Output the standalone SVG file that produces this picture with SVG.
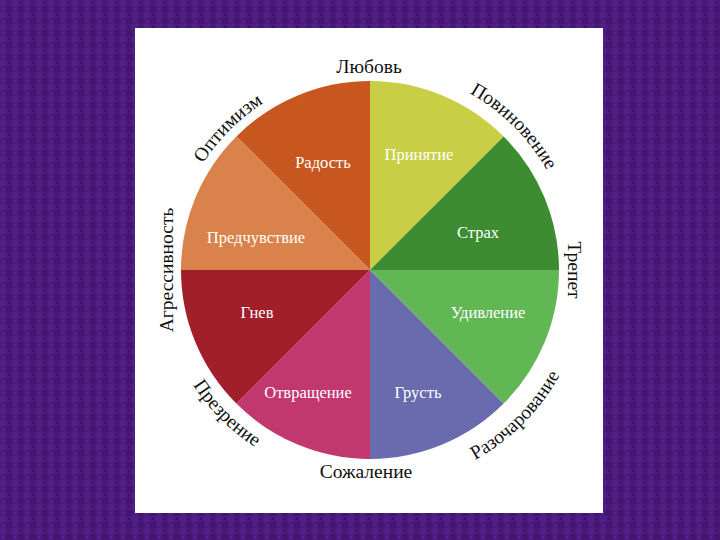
<svg xmlns="http://www.w3.org/2000/svg" xmlns:xlink="http://www.w3.org/1999/xlink" width="720" height="540" viewBox="0 0 720 540">
  <defs>
    <pattern id="tex" x="0" y="0" width="12" height="12" patternUnits="userSpaceOnUse">
      <rect width="12" height="12" fill="#4a1a7c"/>
      <rect x="0" y="0" width="6" height="6" fill="#531d86"/>
      <rect x="6" y="6" width="6" height="6" fill="#431570"/>
      <rect x="2" y="8" width="2" height="2" fill="#5c2493"/>
      <rect x="8" y="2" width="2" height="2" fill="#3d1266"/>
    </pattern>
    <path id="arcOpt" d="M172,270 A198,198 0 0 1 370,72"/>
    <path id="arcPov" d="M370,67 A203,203 0 0 1 573,270"/>
    <path id="arcRaz" d="M370,487 A217,217 0 0 0 587,270"/>
    <path id="arcPrez" d="M159,270 A211,211 0 0 0 370,481"/>
  </defs>
  <style>
    .inner { font-family: "Liberation Serif", "DejaVu Serif", serif; font-size: 16.5px; fill: #ffffff; text-anchor: middle; }
    .outer { font-family: "Liberation Serif", "DejaVu Serif", serif; font-size: 19.5px; fill: #111111; text-anchor: middle; }
  </style>
  <rect x="0" y="0" width="720" height="540" fill="url(#tex)"/>
  <rect x="135" y="28" width="468" height="485" fill="#ffffff"/>

  <g id="wedges">
    <g id="radost">
      <path d="M370,270 L236.4,136.4 A189,189 0 0 1 370,81 Z" fill="#c8571f"/>
      <text class="inner" x="323" y="168">Радость</text>
    </g>
    <g id="prinyatie">
      <path d="M370,270 L370,81 A189,189 0 0 1 503.6,136.4 Z" fill="#c8cf45"/>
      <text class="inner" x="419" y="160">Принятие</text>
    </g>
    <g id="strakh">
      <path d="M370,270 L503.6,136.4 A189,189 0 0 1 559,270 Z" fill="#3d8c32"/>
      <text class="inner" x="478" y="238">Страх</text>
    </g>
    <g id="udivlenie">
      <path d="M370,270 L559,270 A189,189 0 0 1 503.6,403.6 Z" fill="#62b755"/>
      <text class="inner" x="488" y="318">Удивление</text>
    </g>
    <g id="grust">
      <path d="M370,270 L503.6,403.6 A189,189 0 0 1 370,459 Z" fill="#6a6baf"/>
      <text class="inner" x="418" y="398">Грусть</text>
    </g>
    <g id="otvrashchenie">
      <path d="M370,270 L370,459 A189,189 0 0 1 236.4,403.6 Z" fill="#c0386e"/>
      <text class="inner" x="308" y="398">Отвращение</text>
    </g>
    <g id="gnev">
      <path d="M370,270 L236.4,403.6 A189,189 0 0 1 181,270 Z" fill="#a11e2b"/>
      <text class="inner" x="257" y="318">Гнев</text>
    </g>
    <g id="predchuvstvie">
      <path d="M370,270 L181,270 A189,189 0 0 1 236.4,136.4 Z" fill="#d9824b"/>
      <text class="inner" x="256" y="243">Предчувствие</text>
    </g>
  </g>

  <g id="labels">
    <g id="lyubov"><text class="outer" x="369" y="73">Любовь</text></g>
    <g id="sozhalenie"><text class="outer" x="366" y="478">Сожаление</text></g>
    <g id="agressivnost"><text class="outer" transform="translate(173,270) rotate(-90)" x="0" y="0">Агрессивность</text></g>
    <g id="trepet"><text class="outer" transform="translate(568,270) rotate(90)" x="0" y="0">Трепет</text></g>
    <g id="optimizm"><text class="outer"><textPath xlink:href="#arcOpt" href="#arcOpt" startOffset="50%">Оптимизм</textPath></text></g>
    <g id="povinovenie"><text class="outer"><textPath xlink:href="#arcPov" href="#arcPov" startOffset="50%">Повиновение</textPath></text></g>
    <g id="razocharovanie"><text class="outer"><textPath xlink:href="#arcRaz" href="#arcRaz" startOffset="50%">Разочарование</textPath></text></g>
    <g id="prezrenie"><text class="outer"><textPath xlink:href="#arcPrez" href="#arcPrez" startOffset="50%">Презрение</textPath></text></g>
  </g>
</svg>
